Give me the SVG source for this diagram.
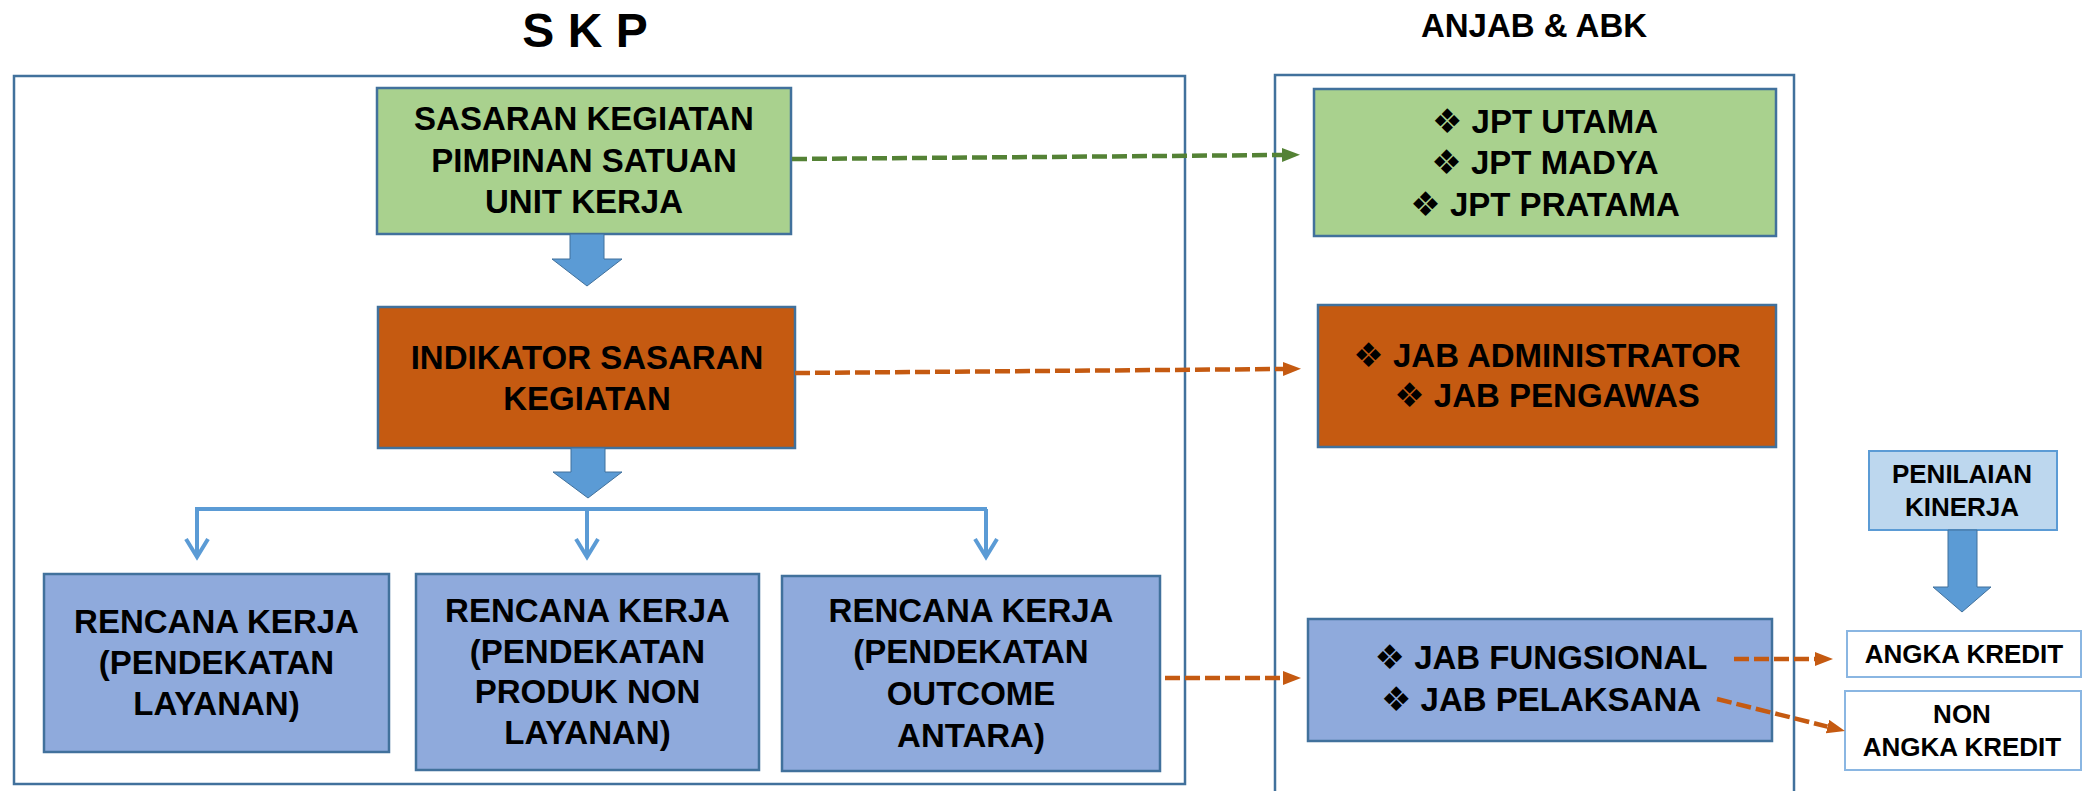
<svg xmlns="http://www.w3.org/2000/svg" width="2083" height="791" viewBox="0 0 2083 791">
  <style>
    .frame { fill: #ffffff; stroke: #41719C; stroke-width: 2.5; }
    .box { stroke: #41719C; stroke-width: 2.5; }
    .green { fill: #A9D18E; }
    .orange { fill: #C55A11; }
    .blue { fill: #8FAADC; }
    .light { fill: #BDD7EE; stroke: #5B9BD5; stroke-width: 2; }
    .white { fill: #ffffff; stroke: #8AB6E2; stroke-width: 2; }
    .t { font-family: "Liberation Sans", Arial, sans-serif; font-weight: bold; font-size: 33px; fill: #000; text-anchor: middle; }
    .s { font-size: 26px; }
    .h { font-size: 48px; }
    .h2 { font-size: 33px; }
    .b { font-family: "DejaVu Sans", sans-serif; font-weight: normal; font-size: 34px; }
    .block { fill: #5B9BD5; stroke: #41719C; stroke-width: 1; }
    .dg { fill: none; stroke: #548235; stroke-width: 4.5; stroke-dasharray: 15 5; }
    .do { fill: none; stroke: #C55A11; stroke-width: 4.5; stroke-dasharray: 15 5; }
    .br { fill: none; stroke: #5B9BD5; stroke-width: 4; }
  </style>
  <defs>
    <marker id="hg" markerUnits="userSpaceOnUse" markerWidth="18" markerHeight="14" viewBox="0 0 18 14" refX="0" refY="7" orient="auto">
      <path d="M0,0 L18,7 L0,14 z" fill="#548235"/>
    </marker>
    <marker id="ho" markerUnits="userSpaceOnUse" markerWidth="18" markerHeight="14" viewBox="0 0 18 14" refX="0" refY="7" orient="auto">
      <path d="M0,0 L18,7 L0,14 z" fill="#C55A11"/>
    </marker>
    <marker id="hv" markerUnits="userSpaceOnUse" markerWidth="26" markerHeight="30" viewBox="-22 -15 26 30" refX="0" refY="0" orient="auto" overflow="visible">
      <path d="M-18,-11 L0,0 L-18,11" fill="none" stroke="#5B9BD5" stroke-width="4" stroke-linejoin="miter"/>
    </marker>
  </defs>

  <rect width="2083" height="791" fill="#ffffff"/>

  <!-- titles and frames -->
  <text class="t h" x="585" y="47">S K P</text>
  <text class="t h2" x="1534" y="37">ANJAB &amp; ABK</text>
  <rect class="frame" x="14" y="76" width="1171" height="708"/>
  <rect class="frame" x="1275" y="75" width="519" height="740"/>

  <g id="sasaran">
    <rect class="box green" x="377" y="88" width="414" height="146"/>
    <text class="t" x="584" y="130">SASARAN KEGIATAN</text>
    <text class="t" x="584" y="172">PIMPINAN SATUAN</text>
    <text class="t" x="584" y="213">UNIT KERJA</text>
  </g>

  <g id="indikator">
    <rect class="box orange" x="378" y="307" width="417" height="141"/>
    <text class="t" x="587" y="369">INDIKATOR SASARAN</text>
    <text class="t" x="587" y="410">KEGIATAN</text>
  </g>

  <g id="rencana1">
    <rect class="box blue" x="44" y="574" width="345" height="178"/>
    <text class="t" x="216.5" y="633">RENCANA KERJA</text>
    <text class="t" x="216.5" y="674">(PENDEKATAN</text>
    <text class="t" x="216.5" y="715">LAYANAN)</text>
  </g>

  <g id="rencana2">
    <rect class="box blue" x="416" y="574" width="343" height="196"/>
    <text class="t" x="587.5" y="622">RENCANA KERJA</text>
    <text class="t" x="587.5" y="663">(PENDEKATAN</text>
    <text class="t" x="587.5" y="703">PRODUK NON</text>
    <text class="t" x="587.5" y="744">LAYANAN)</text>
  </g>

  <g id="rencana3">
    <rect class="box blue" x="782" y="576" width="378" height="195"/>
    <text class="t" x="971" y="622">RENCANA KERJA</text>
    <text class="t" x="971" y="663">(PENDEKATAN</text>
    <text class="t" x="971" y="705">OUTCOME</text>
    <text class="t" x="971" y="747">ANTARA)</text>
  </g>

  <g id="jpt">
    <rect class="box green" x="1314" y="89" width="462" height="147"/>
    <text class="t" x="1545" y="133"><tspan class="b">❖</tspan> JPT UTAMA</text>
    <text class="t" x="1545" y="174"><tspan class="b">❖</tspan> JPT MADYA</text>
    <text class="t" x="1545" y="216"><tspan class="b">❖</tspan> JPT PRATAMA</text>
  </g>

  <g id="jab-admin">
    <rect class="box orange" x="1318" y="305" width="458" height="142"/>
    <text class="t" x="1547" y="367"><tspan class="b">❖</tspan> JAB ADMINISTRATOR</text>
    <text class="t" x="1547" y="407"><tspan class="b">❖</tspan> JAB PENGAWAS</text>
  </g>

  <g id="jab-fungsional">
    <rect class="box blue" x="1308" y="619" width="464" height="122"/>
    <text class="t" x="1541" y="669"><tspan class="b">❖</tspan> JAB FUNGSIONAL</text>
    <text class="t" x="1541" y="711"><tspan class="b">❖</tspan> JAB PELAKSANA</text>
  </g>

  <g id="penilaian">
    <rect class="light" x="1869" y="451" width="188" height="79"/>
    <text class="t s" x="1962" y="483">PENILAIAN</text>
    <text class="t s" x="1962" y="516">KINERJA</text>
  </g>

  <g id="angka-kredit">
    <rect class="white" x="1847" y="631" width="234" height="46"/>
    <text class="t s" x="1964" y="663">ANGKA KREDIT</text>
  </g>

  <g id="non-angka-kredit">
    <rect class="white" x="1845" y="691" width="236" height="79"/>
    <text class="t s" x="1962" y="723">NON</text>
    <text class="t s" x="1962" y="756">ANGKA KREDIT</text>
  </g>

  <g id="connectors">
    <path class="dg" d="M792,159 L1282,155" marker-end="url(#hg)"/>
    <path class="do" d="M795,373 L1283,369" marker-end="url(#ho)"/>
    <path class="do" d="M1165,678 L1283,678" marker-end="url(#ho)"/>
    <path class="do" d="M1734,659 L1815,659" marker-end="url(#ho)"/>
    <path class="do" d="M1717,699 L1827.5,726.6" marker-end="url(#ho)"/>
    <path class="br" d="M195,509 H987"/>
    <path class="br" d="M197,509 V557" marker-end="url(#hv)"/>
    <path class="br" d="M587,509 V557" marker-end="url(#hv)"/>
    <path class="br" d="M986,509 V557" marker-end="url(#hv)"/>
    <polygon class="block" points="570,234 604,234 604,259 622,259 587,286 552,259 570,259"/>
    <polygon class="block" points="571,448 605,448 605,472 622,472 588,498 553,472 571,472"/>
    <polygon class="block" points="1948,530 1977,530 1977,587 1991,587 1962,612 1933,587 1948,587"/>
  </g>
</svg>
